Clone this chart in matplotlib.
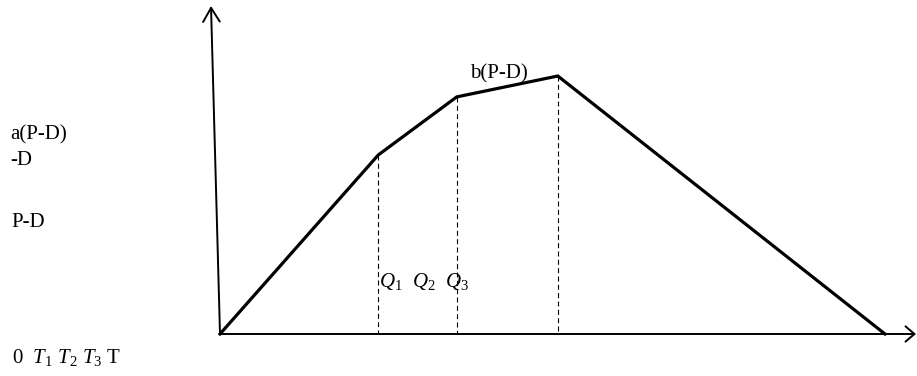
import matplotlib
matplotlib.use("Agg")
import matplotlib.pyplot as plt
from matplotlib.patches import FancyArrowPatch

# ---- data ----
times = [0.0, 2.38, 3.56, 5.08, 10.0]     # 0, T1, T2, T3, T
levels = [0.0, 69.4, 91.9, 100.0, 0.0]    # inventory level at each time
corner_idx = [1, 2, 3]                    # points that get a dashed drop line
left_labels = ["a(P-D)", "-D", "P-D"]
time_label = r"0  $T_1$ $T_2$ $T_3$ T"
q_label = r"$Q_1$  $Q_2$  $Q_3$"
peak_label = "b(P-D)"

plt.rcParams["font.family"] = ["Liberation Serif", "DejaVu Serif"]
plt.rcParams["mathtext.fontset"] = "custom"
plt.rcParams["mathtext.rm"] = "Liberation Serif"
plt.rcParams["mathtext.it"] = "Liberation Serif:italic"
plt.rcParams["lines.scale_dashes"] = False

W, H = 917, 376
fig = plt.figure(figsize=(W / 100, H / 100), dpi=100)
ax = fig.add_axes([0, 0, 1, 1])
xs, ys = 66.5, 2.58      # pixels per data unit
x0, y0 = 220, 334        # pixel position of the origin
ax.set_xlim(-x0 / xs, (W - x0) / xs)
ax.set_ylim(-(H - y0) / ys, y0 / ys)
ax.axis("off")

def px(x, y):
    return (x / W, 1 - y / H)

# axes with arrows
ax.add_patch(FancyArrowPatch((0, 0), (-9 / xs, 328 / ys), arrowstyle="->,head_length=1.0,head_width=0.6",
                             mutation_scale=10, lw=1.4, color="black", shrinkA=0, shrinkB=0))
ax.add_patch(FancyArrowPatch((0, 0), ((W - 1 - x0) / xs, 0), arrowstyle="->,head_length=0.65,head_width=0.55",
                             mutation_scale=10, lw=1.4, color="black", shrinkA=0, shrinkB=0))

# inventory curve
ax.plot(times, levels, color="black", lw=2.3, solid_joinstyle="miter", zorder=3)

# dashed drop lines
for i in corner_idx:
    ax.plot([times[i], times[i]], [levels[i], 0], color="black", lw=0.8,
            linestyle=(0, (3.6, 2.4)), zorder=2)

fs = 15
ax.text(*px(10, 139), left_labels[0], transform=fig.transFigure, fontsize=fs, va="baseline", ha="left")
ax.text(*px(10, 165), left_labels[1], transform=fig.transFigure, fontsize=fs, va="baseline", ha="left")
ax.text(*px(11, 227), left_labels[2], transform=fig.transFigure, fontsize=fs, va="baseline", ha="left")
ax.text(*px(12, 363), time_label, transform=fig.transFigure, fontsize=fs, va="baseline", ha="left")
ax.text(*px(379, 287), q_label, transform=fig.transFigure, fontsize=fs, va="baseline", ha="left")
ax.text(*px(470, 78), peak_label, transform=fig.transFigure, fontsize=fs, va="baseline", ha="left")

fig.savefig("out.png", dpi=100, facecolor="white")
